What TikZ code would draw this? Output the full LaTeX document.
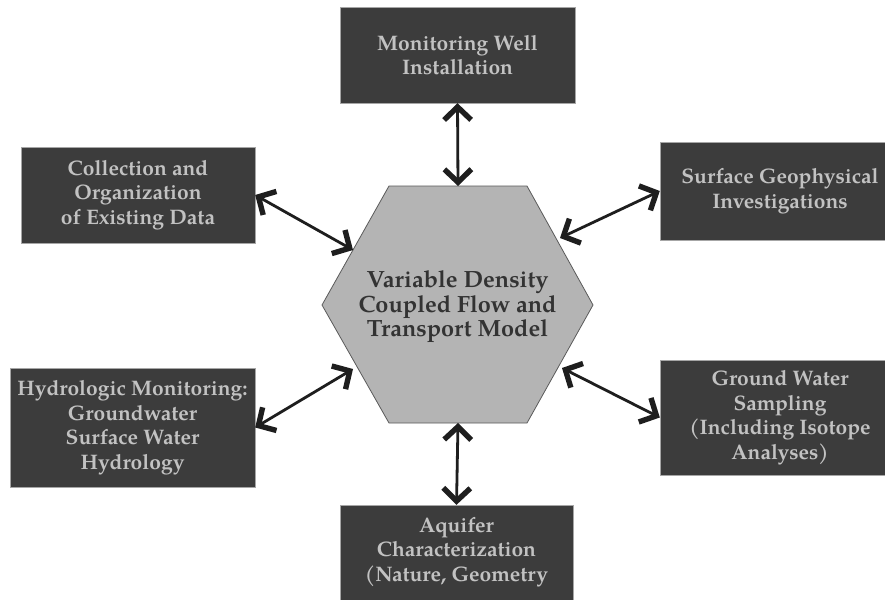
\documentclass[tikz,border=0pt]{standalone}
\usepackage{fontspec}
\setmainfont{TeX Gyre Pagella}
\usetikzlibrary{arrows.meta}
\definecolor{boxfill}{HTML}{3C3C3C}
\definecolor{boxtext}{HTML}{C2C2C2}
\definecolor{hexfill}{HTML}{B4B4B4}
\definecolor{hexdraw}{HTML}{5A5A5A}
\definecolor{arrowcol}{HTML}{1E1E1E}
\begin{document}
\begin{tikzpicture}[x=1pt,y=-1pt,
  box/.style={draw=gray!70, line width=0.4pt, fill=boxfill, text=boxtext,
    font=\fontsize{21}{24.5}\selectfont\bfseries, align=center, inner sep=0pt},
  boxtxt/.style={text=boxtext, font=\fontsize{21}{24.5}\selectfont\bfseries, align=center, inner sep=0pt},
  hexshape/.style={fill=hexfill, draw=hexdraw, line width=0.8pt, line join=miter},
  hextxt/.style={text=black!80, font=\fontsize{23.5}{24.5}\selectfont\bfseries, align=center, inner sep=0pt},
  barb/.tip={Straight Barb[length=13pt,width=27pt,line width=5.4pt]},
  link/.style={draw=arrowcol, line width=2.8pt, barb-barb}]
\useasboundingbox (0,0) rectangle (885,599);
\fill[white] (0,0) rectangle (885,599);

% central hexagon
\draw[hexshape] (322,305) -- (389,186) -- (527,186) -- (593,305) -- (527,423) -- (389,423) -- cycle;
\node[hextxt] (hex) at (457.5,307) {Variable Density\\Coupled Flow and\\Transport Model};

% points on the hexagon where the connectors end
\coordinate (hN)  at (458,186);
\coordinate (hS)  at (458,423);
\coordinate (hNW) at (353,250);
\coordinate (hNE) at (560,238);
\coordinate (hSW) at (353,369);
\coordinate (hSE) at (562,368);

% boxes
\node[box, minimum width=235pt, minimum height=96pt] (mw) at (457.5,55) {Monitoring Well\\Installation};
\node[box, minimum width=234pt, minimum height=96pt] (coll) at (138,195) {Collection and\\Organization\\of Existing Data};
\node[box, minimum width=240pt, minimum height=98pt] (surf) at (780,191) {Surface Geophysical\\Investigations};
\node[box, minimum width=245pt, minimum height=119pt] (hydro) at (132.5,427.5) {Hydrologic Monitoring:\\Groundwater\\Surface Water\\Hydrology};
\node[box, minimum width=240pt, minimum height=115pt] (gw) at (780,417.5) {Ground Water\\Sampling\\(Including Isotope\\Analyses)};
\node[box, minimum width=233pt, minimum height=115pt] (aq) at (456.5,562.5) {};
\node[boxtxt, anchor=north] (aqt) at (456.5,517) {Aquifer\\Characterization\\(Nature, Geometry};

% connectors
\draw[link] (mw.south) -- (hN);
\draw[link] (hS) -- (aq.north);
\draw[link] (coll.east) -- (hNW);
\draw[link] (surf.west) -- (hNE);
\draw[link] (hydro.east) -- (hSW);
\draw[link] (gw.west) -- (hSE);
\end{tikzpicture}
\end{document}
